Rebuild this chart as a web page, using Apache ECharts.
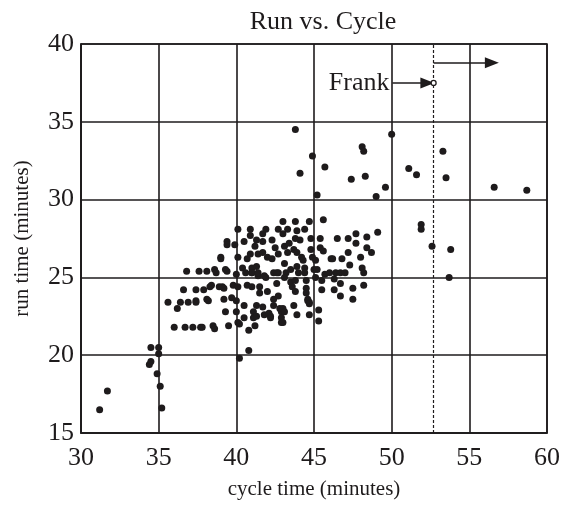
<!DOCTYPE html>
<html>
<head>
<meta charset="utf-8">
<script src="https://cdn.jsdelivr.net/npm/echarts@6/dist/echarts.min.js"></script>
<style>
  html, body { margin: 0; padding: 0; background: #fff; }
  #main { width: 565px; height: 506px; }
</style>
</head>
<body>
<div id="main"></div>
<script type="text/javascript">
// cycle time (x) and run time (y)
var cycle = [
  31.2, 31.7, 34.5, 35.0, 35.0, 34.4, 34.5, 34.9, 35.1, 35.2,
  43.8, 50.0, 48.1, 48.2, 53.3, 44.9, 44.1, 45.7, 48.3, 47.4, 51.1, 51.6, 53.5, 45.2, 49.6, 49.0, 56.6, 58.7, 51.9, 51.9, 52.6, 53.8, 53.7,
  35.6, 36.2, 36.0, 36.4, 36.6, 36.8, 36.7, 36.9, 37.2, 37.4, 37.4, 37.4, 37.6, 37.7, 37.8, 37.9, 38.1, 38.1, 38.2, 38.3, 38.4, 38.5, 38.6, 38.6, 38.7,
  39.0, 39.0, 38.9, 39.1, 39.2, 39.2, 39.3, 39.4, 39.4, 39.3, 39.4, 39.5, 39.8, 39.7, 39.9,
  40.1, 40.1, 40.0, 40.1, 40.0, 40.0, 40.1, 40.2, 40.2, 40.5, 40.4, 40.5, 40.5, 40.7, 40.7, 40.8, 40.8,
  40.9, 40.9, 40.9, 41.0, 41.0, 41.0, 41.1, 41.1, 41.2, 41.3, 41.4, 41.3, 41.4, 41.5, 41.5, 41.3, 41.3,
  41.7, 41.7, 41.7, 41.8, 41.7, 41.9, 42.0, 42.0, 41.9, 42.1, 42.2, 42.3, 42.3, 42.4, 42.4, 42.4, 42.5, 42.6,
  42.7, 42.7, 42.7, 42.7, 42.8, 42.9, 42.9, 42.9, 43.0, 43.0, 43.1, 43.1, 43.2, 43.1, 43.3, 43.3, 43.4, 43.5, 43.5, 43.6,
  43.7, 43.8, 43.8, 43.8, 43.9, 43.9, 43.9, 43.8, 43.7, 43.9, 44.1, 44.2, 44.3, 44.4, 44.4, 44.5, 44.5, 44.5, 44.6, 44.7, 44.7,
  44.7, 44.8, 44.8, 44.9, 45.0, 45.1, 45.1, 45.2, 45.3, 45.3, 45.4, 45.4, 45.6, 45.6, 45.5, 45.5, 45.7, 46.0, 46.1, 46.2,
  46.3, 46.3, 46.4, 46.5, 46.7, 46.7, 46.7, 46.8, 47.0, 47.2, 47.2, 47.3, 47.5, 47.5, 47.7, 47.7, 48.0, 48.1, 48.2, 48.2,
  48.4, 48.4, 48.7, 49.1,
  41.0, 41.4, 41.8, 44.4, 44.0, 43.0, 43.1, 43.0, 44.6, 44.7, 42.2, 42.6, 40.6, 41.2
];
var run = [
  16.5, 17.7, 20.5, 20.5, 20.1, 19.4, 19.6, 18.8, 18.0, 16.6,
  34.5, 34.2, 33.4, 33.1, 33.1, 32.8, 31.7, 32.1, 31.5, 31.3, 32.0, 31.6, 31.4, 30.3, 30.8, 30.2, 30.8, 30.6, 28.4, 28.1, 27.0, 26.8, 25.0,
  23.4, 23.0, 21.8, 23.4, 24.2, 25.4, 21.8, 23.4, 21.8, 24.2, 23.5, 23.4, 25.4, 21.8, 21.8, 24.2, 25.4, 23.6, 23.5, 24.4, 24.5, 21.9, 21.7, 25.5, 25.3,
  26.3, 26.2, 24.4, 24.4, 23.6, 24.3, 22.8, 27.3, 27.1, 25.5, 25.4, 21.9, 24.5, 23.7, 27.1,
  28.1, 26.3, 25.2, 24.4, 23.5, 22.8, 22.1, 19.8, 22.0, 27.3, 25.6, 23.2, 22.4, 26.2, 24.5, 21.6, 20.3,
  28.1, 27.7, 26.5, 25.6, 25.3, 24.4, 22.8, 22.4, 21.9, 27.4, 26.5, 25.7, 25.1, 24.4, 24.0, 23.2, 22.5,
  27.8, 27.3, 26.6, 22.6, 23.1, 28.1, 26.3, 24.1, 25.0, 22.7, 22.5, 27.4, 26.2, 25.3, 23.6, 23.2, 26.9, 24.6,
  28.1, 26.5, 25.3, 23.8, 23.0, 22.8, 22.1, 22.4, 28.6, 27.8, 27.0, 25.9, 25.3, 25.0, 26.6, 28.1, 27.2, 25.5, 24.7, 24.4,
  26.8, 24.8, 28.6, 27.5, 28.0, 26.6, 25.7, 24.1, 23.2, 22.6, 27.4, 26.3, 26.1, 25.6, 25.3, 24.8, 24.3, 24.0, 23.6, 23.4, 22.6,
  28.6, 27.5, 26.8, 26.3, 25.5, 25.0, 26.1, 25.5, 22.9, 22.2, 27.5, 26.9, 28.7, 26.7, 24.8, 24.2, 25.2, 25.3, 26.2, 26.2,
  24.9, 24.2, 25.3, 27.5, 25.3, 24.6, 23.8, 26.2, 25.3, 27.5, 26.6, 25.8, 24.3, 23.6, 27.2, 27.8, 26.3, 25.6, 25.3, 24.5,
  27.6, 26.9, 26.6, 27.9,
  25.3, 25.3, 25.1, 28.1, 25.3, 23.0, 22.8, 22.1, 23.5, 23.3, 22.4, 25.3, 25.3, 27.0
];

// the marked runner and the cut-off line
var frank = [52.7, 37.5];
var frankArrow = [[50.05, 37.5], [52.3, 37.5]];
var cutArrow = [[52.7, 38.8], [56.45, 38.8]];

var xTicks = [30, 60, 5];
var yTicks = [15, 40, 5];

var points = [];
for (var i = 0; i < cycle.length; i++) {
    points.push([cycle[i], run[i]]);
}

var serif = '"Liberation Serif", "DejaVu Serif", serif';
var ink = '#1e1b1c';

var myChart = echarts.init(document.getElementById('main'));

var option = {
    animation: false,
    backgroundColor: '#fff',
    title: {
        text: 'Run vs. Cycle',
        left: 318,
        top: 4,
        textAlign: 'center',
        textStyle: { fontFamily: serif, fontSize: 26, fontWeight: 'normal', color: ink }
    },
    grid: {
        left: 81,
        right: 18,
        top: 44,
        bottom: 73,
        show: true,
        borderColor: ink,
        borderWidth: 1.6
    },
    xAxis: {
        type: 'value',
        min: xTicks[0],
        max: xTicks[1],
        interval: xTicks[2],
        name: 'cycle time (minutes)',
        nameLocation: 'middle',
        nameGap: 46,
        nameTextStyle: { fontFamily: serif, fontSize: 21, color: ink },
        axisLine: { show: true, lineStyle: { color: ink, width: 1.6 } },
        axisTick: { show: false },
        axisLabel: { fontFamily: serif, fontSize: 26, color: ink, margin: 12 },
        splitLine: { show: true, lineStyle: { color: ink, width: 1.6 } }
    },
    yAxis: {
        type: 'value',
        min: yTicks[0],
        max: yTicks[1],
        interval: yTicks[2],
        name: 'run time (minutes)',
        nameLocation: 'middle',
        nameGap: 48,
        nameTextStyle: { fontFamily: serif, fontSize: 21, color: ink },
        axisLine: { show: true, lineStyle: { color: ink, width: 1.6 } },
        axisTick: { show: false },
        axisLabel: { fontFamily: serif, fontSize: 26, color: ink, margin: 7 },
        splitLine: { show: true, lineStyle: { color: ink, width: 1.6 } }
    },
    series: [
        {
            type: 'scatter',
            data: points,
            symbol: 'circle',
            symbolSize: 7,
            itemStyle: { color: ink, opacity: 1 },
            markLine: {
                silent: true,
                animation: false,
                data: [
                    [
                        { coord: [frank[0], yTicks[0]], symbol: 'none', lineStyle: { type: [3, 2], width: 1.2, color: ink } },
                        { coord: [frank[0], yTicks[1]], symbol: 'none' }
                    ],
                    [
                        { coord: frankArrow[0], symbol: 'none', lineStyle: { type: 'solid', width: 1.6, color: ink },
                          label: { show: true, position: 'start', formatter: 'Frank', distance: 3,
                                   fontFamily: serif, fontSize: 26, color: ink } },
                        { coord: frankArrow[1], symbol: 'triangle', symbolSize: [11, 14], symbolRotate: -90 }
                    ],
                    [
                        { coord: cutArrow[0], symbol: 'none', lineStyle: { type: 'solid', width: 1.6, color: ink } },
                        { coord: cutArrow[1], symbol: 'triangle', symbolSize: [11, 14], symbolRotate: -90 }
                    ]
                ],
                label: { show: false },
                lineStyle: { color: ink }
            }
        },
        {
            type: 'scatter',
            data: [frank],
            symbol: 'circle',
            symbolSize: 5,
            z: 5,
            itemStyle: { color: '#fff', borderColor: ink, borderWidth: 1.3, opacity: 1 }
        }
    ]
};

myChart.setOption(option);
</script>
</body>
</html>
